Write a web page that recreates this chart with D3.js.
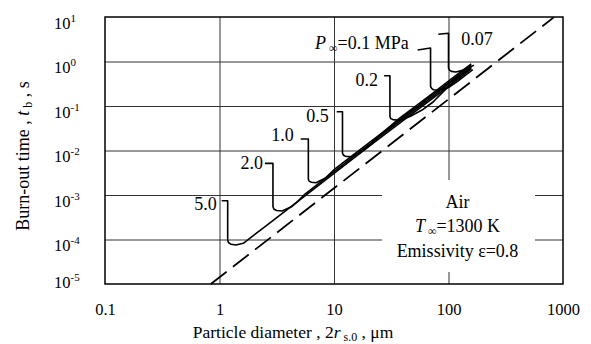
<!DOCTYPE html>
<html>
<head>
<meta charset="utf-8">
<script src="https://cdn.jsdelivr.net/npm/d3@7"></script>
<style>
  body { margin: 0; background: #fff; }
  svg { display: block; font-family: 'Liberation Serif', 'Times New Roman', serif; }
</style>
</head>
<body>
<svg width="591" height="344"></svg>
<script>
/* global d3 */

// Axis ticks
const xTicks = [0.1, 1, 10, 100, 1000];
const yExponents = [1, 0, -1, -2, -3, -4, -5];

// Burn-out curves: [particle diameter (um), burn-out time (s)]
const curve5 = [[1.045, 7.45e-4], [1.179, 7.45e-4], [1.179, 9.8e-5], [1.198, 8.57e-5], [1.26, 7.8e-5],
  [1.393, 7.52e-5], [1.614, 8.22e-5], [2.5, 1.95e-4], [5.58, 9.6e-4], [10.2, 3.2e-3], [20.6, 1.28e-2],
  [37.7, 4.2e-2], [69.4, 0.135], [114, 0.36], [158, 0.68]];
const curve2 = [[2.495, 5.15e-3], [2.93, 5.15e-3], [2.93, 5.5e-4], [2.98, 4.84e-4], [3.15, 4.49e-4],
  [3.52, 4.36e-4], [4.3, 5.52e-4], [4.85, 7.3e-4], [5.58, 1.05e-3], [10.2, 3.5e-3], [20.6, 1.41e-2],
  [37.7, 4.6e-2], [69.4, 0.149], [114, 0.40], [158, 0.75]];
const curve1 = [[5.12, 1.81e-2], [5.97, 1.81e-2], [5.97, 2.3e-3], [6.05, 2.05e-3], [6.35, 1.93e-3],
  [6.97, 1.88e-3], [8.5, 2.45e-3], [10.2, 3.85e-3], [20.6, 1.54e-2], [37.7, 5.0e-2], [69.4, 0.162],
  [114, 0.43], [158, 0.82]];
const curve05 = [[10.56, 7.44e-2], [11.86, 7.44e-2], [11.86, 8.8e-3], [12.05, 7.9e-3], [12.6, 7.45e-3],
  [14.1, 7.2e-3], [16.9, 8.8e-3], [20.6, 1.3e-2], [26, 2.4e-2], [37.7, 5.4e-2], [69.4, 0.176],
  [114, 0.47], [158, 0.88]];
const curve02 = [[27.4, 0.48], [30.8, 0.48], [30.8, 5.8e-2], [31.3, 5.2e-2], [32.7, 4.95e-2], [37, 4.8e-2],
  [46.1, 5.8e-2], [58.7, 8.1e-2], [73.3, 0.123], [90, 0.21], [114, 0.38], [158, 0.72]];
const curve01 = [[53.8, 1.81], [69.7, 2.01], [69.7, 0.274], [71.5, 0.245], [74.0, 0.232], [84.4, 0.226],
  [100, 0.26], [120, 0.36], [140, 0.49], [163, 0.66]];
const curve007 = [[81.5, 4.08], [100, 4.31], [100, 0.715], [102, 0.64], [106, 0.6], [116, 0.58],
  [135, 0.64], [150, 0.72], [167, 0.83]];

// Dashed limit line (t proportional to d^2)
const limitLine = [[0.84, 1.0e-5], [830, 9.8]];

// Pressure labels, MPa
const pressureLabels = ['5.0', '2.0', '1.0', '0.5', '0.2', '0.1', '0.07'];
const curves = [curve5, curve2, curve1, curve05, curve02, curve01, curve007];

// Layout
const svg = d3.select('svg');
const plotLeft = 105;
const plotRight = 563;
const plotTop = 17;
const plotBottom = 284;

const x = d3.scaleLog().domain([0.1, 1000]).range([plotLeft, plotRight]);
const y = d3.scaleLog().domain([1e-5, 10]).range([plotBottom, plotTop]);

svg.append('rect').attr('width', 591).attr('height', 344).attr('fill', '#fff');

// Grid lines
svg.append('g')
  .attr('transform', `translate(0, ${plotBottom})`)
  .call(d3.axisBottom(x).tickValues([1, 10, 100]).tickSize(-(plotBottom - plotTop)).tickFormat(''))
  .call((g) => g.select('.domain').remove())
  .call((g) => g.selectAll('line').attr('stroke', '#333').attr('stroke-width', 1));

svg.append('g')
  .attr('transform', `translate(${plotLeft}, 0)`)
  .call(d3.axisLeft(y).tickValues([1, 0.1, 0.01, 0.001, 0.0001]).tickSize(-(plotRight - plotLeft)).tickFormat(''))
  .call((g) => g.select('.domain').remove())
  .call((g) => g.selectAll('line').attr('stroke', '#333').attr('stroke-width', 1));

// Info box covers the grid
svg.append('rect')
  .attr('x', 382).attr('y', 180)
  .attr('width', 153).attr('height', 92)
  .attr('fill', '#fff');

const info = svg.append('g')
  .attr('text-anchor', 'middle')
  .style('font-size', '18px');
info.append('text').attr('x', 457.5).attr('y', 208).text('Air');
const tInf = info.append('text').attr('x', 457.5).attr('y', 232);
tInf.append('tspan').style('font-style', 'italic').text('T');
tInf.append('tspan').attr('dx', 3).attr('dy', 3).style('font-size', '12px').text('∞');
tInf.append('tspan').attr('dy', -3).text('=1300 K');
info.append('text').attr('x', 457.5).attr('y', 257).text('Emissivity ε=0.8');

// Plot frame
svg.append('rect')
  .attr('x', plotLeft).attr('y', plotTop)
  .attr('width', plotRight - plotLeft).attr('height', plotBottom - plotTop)
  .attr('fill', 'none')
  .attr('stroke', '#000')
  .attr('stroke-width', 1.5);

// X tick labels
svg.append('g')
  .attr('transform', `translate(0, ${plotBottom})`)
  .call(d3.axisBottom(x).tickValues(xTicks).tickSize(0).tickPadding(0)
    .tickFormat((d) => String(d)))
  .call((g) => g.select('.domain').remove())
  .call((g) => g.selectAll('text')
    .attr('y', 31)
    .attr('dy', null)
    .attr('fill', '#000')
    .style('font-size', '16.5px')
    .style('font-family', "'Liberation Serif', 'Times New Roman', serif"));

// Y tick labels: 10 with superscript exponent
yExponents.forEach((e) => {
  const gy = y(10 ** e);
  const base = e === -5 ? gy + 4 : gy + 11.5;
  const t = svg.append('text')
    .attr('x', 54)
    .attr('y', base)
    .style('font-size', '16.5px');
  t.append('tspan').text('10');
  t.append('tspan').attr('dy', -7).style('font-size', '11px').text(String(e));
});

// Axis titles
const xTitle = svg.append('text')
  .attr('x', 293)
  .attr('y', 338)
  .attr('text-anchor', 'middle')
  .style('font-size', '17.5px');
xTitle.append('tspan').text('Particle diameter ,  2');
xTitle.append('tspan').style('font-style', 'italic').text('r');
xTitle.append('tspan').attr('dx', 3).attr('dy', 3).style('font-size', '12px').text('s.0');
xTitle.append('tspan').attr('dy', -3).text(' ,  μm');

const yTitle = svg.append('text')
  .attr('transform', 'translate(29, 156) rotate(-90)')
  .attr('text-anchor', 'middle')
  .style('font-size', '18px');
yTitle.append('tspan').text('Burn-out time ,  ');
yTitle.append('tspan').style('font-style', 'italic').text('t');
yTitle.append('tspan').attr('dx', 3).attr('dy', 3).style('font-size', '12px').text('b');
yTitle.append('tspan').attr('dy', -3).text('  ,  s');

// Curves
const line = d3.line()
  .x((d) => x(d[0]))
  .y((d) => y(d[1]));

svg.append('path')
  .datum(limitLine)
  .attr('d', line)
  .attr('fill', 'none')
  .attr('stroke', '#000')
  .attr('stroke-width', 1.8)
  .attr('stroke-dasharray', '20,8');

svg.selectAll('.curve')
  .data(curves)
  .enter()
  .append('path')
  .attr('class', 'curve')
  .attr('d', line)
  .attr('fill', 'none')
  .attr('stroke', '#000')
  .attr('stroke-width', 1.6)
  .attr('stroke-linejoin', 'round');

// Pressure labels next to the start of each curve
const labelOffsets = [[-5, 9.5], [-2, 6], [-7, 2], [-8, 10.5], [-6, 10.5], [-9, -1], [23, 11]];
const labels = svg.append('g').style('font-size', '18px');
curves.forEach((c, i) => {
  const [dx, dy] = labelOffsets[i];
  const lx = x(c[0][0]) + dx;
  const ly = y(c[0][1]) + dy;
  const t = labels.append('text')
    .attr('x', lx)
    .attr('y', ly)
    .attr('text-anchor', i === 6 ? 'start' : 'end');
  if (pressureLabels[i] === '0.1') {
    t.append('tspan').style('font-style', 'italic').text('P');
    t.append('tspan').attr('dx', 3).attr('dy', 3).style('font-size', '12px').text('∞');
    t.append('tspan').attr('dy', -3).text('=0.1 MPa');
  } else {
    t.text(pressureLabels[i]);
  }
});
</script>
</body>
</html>
